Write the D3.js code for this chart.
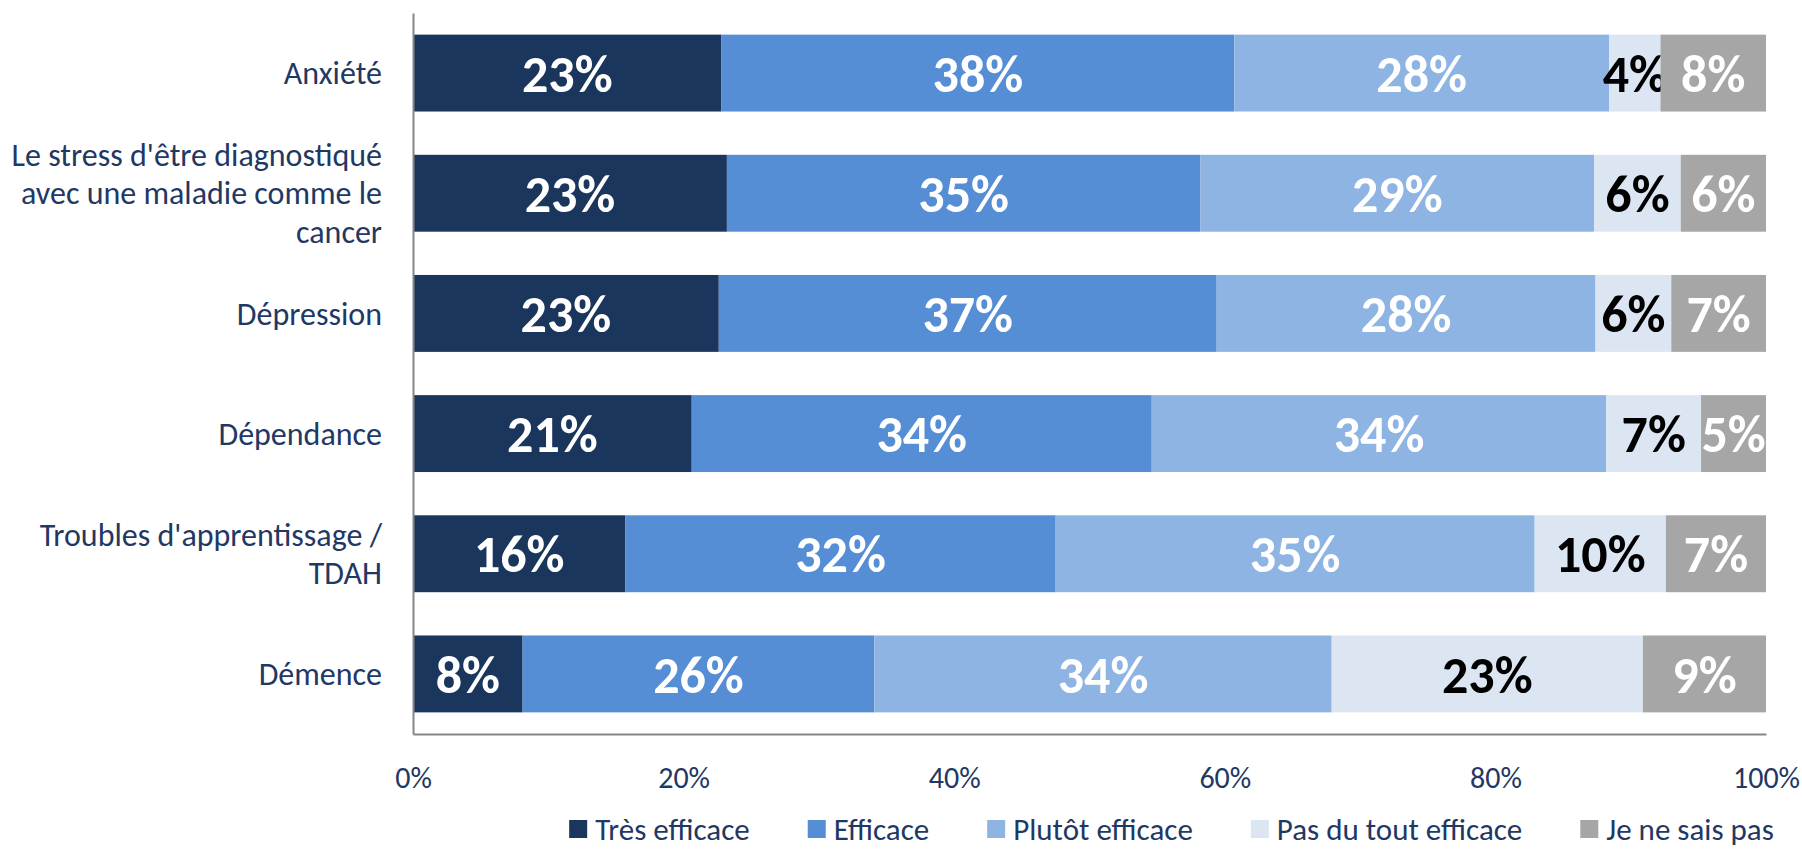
<!DOCTYPE html>
<html>
<head>
<meta charset="utf-8">
<script src="https://cdn.jsdelivr.net/npm/d3@7"></script>
<style>
  body { margin: 0; background: #fff; }
  text { font-family: Carlito, Calibri, Lato, sans-serif; }
</style>
</head>
<body>
<div id="chart"></div>
<script>
// loading data
var categories = ["Anxiété",
                  "Le stress d'être diagnostiqué avec une maladie comme le cancer",
                  "Dépression",
                  "Dépendance",
                  "Troubles d'apprentissage / TDAH",
                  "Démence"];
var series = ["Très efficace", "Efficace", "Plutôt efficace", "Pas du tout efficace", "Je ne sais pas"];

// shares per category, one array per series (in %)
var tresEfficace   = [22.8, 23.2, 22.6, 20.6, 15.7, 8.1];
var efficace       = [37.9, 35.0, 36.8, 34.0, 31.8, 26.0];
var plutotEfficace = [27.7, 29.1, 28.0, 33.6, 35.4, 33.8];
var pasDuTout      = [3.8, 6.4, 5.6, 7.0, 9.7, 23.0];
var nsp            = [7.8, 6.3, 7.0, 4.8, 7.4, 9.1];

// rounded labels shown on the bars
var labTres    = ["23%", "23%", "23%", "21%", "16%", "8%"];
var labEff     = ["38%", "35%", "37%", "34%", "32%", "26%"];
var labPlutot  = ["28%", "29%", "28%", "34%", "35%", "34%"];
var labPas     = ["4%", "6%", "6%", "7%", "10%", "23%"];
var labNsp     = ["8%", "6%", "7%", "5%", "7%", "9%"];

var tickValues = [0, 20, 40, 60, 80, 100];

var colors = ["#1B365D", "#558ED5", "#8EB4E3", "#DCE6F2", "#A6A6A6"];
var labelColors = ["#fff", "#fff", "#fff", "#000", "#fff"];
var navy = "#1F3864";

var values = [tresEfficace, efficace, plutotEfficace, pasDuTout, nsp];
var labels = [labTres, labEff, labPlutot, labPas, labNsp];

// table for the stack
var table = categories.map(function(c, i) {
	var row = { cat: c };
	series.forEach(function(s, k) { row[s] = values[k][i]; });
	return row;
});

// setting the dimensions and margins of the chart
var W = 1802, H = 850;
var margin = { top: 13, right: 36, bottom: 116, left: 413 };
var width = W - margin.left - margin.right,
    height = H - margin.top - margin.bottom;

var svg = d3.select("#chart")
	.append("svg")
	.attr("width", W)
	.attr("height", H)
	.append("g")
	.attr("transform", "translate(" + margin.left + "," + margin.top + ")");

var x = d3.scaleLinear().domain([0, 100]).range([0, width]);
var y = d3.scaleBand()
	.domain(categories)
	.range([0, height])
	.paddingInner(0.36)
	.paddingOuter(0.18);

var stack = d3.stack().keys(series)(table);

// bars
var layers = svg.selectAll(".layer")
	.data(stack)
	.enter()
	.append("g")
	.attr("class", "layer")
	.attr("fill", function(d, k) { return colors[k]; });

layers.selectAll("rect")
	.data(function(d) { return d; })
	.enter()
	.append("rect")
	.attr("x", function(d) { return x(d[0]); })
	.attr("width", function(d) { return x(d[1]) - x(d[0]); })
	.attr("y", function(d) { return y(d.data.cat); })
	.attr("height", y.bandwidth());

// value labels
layers.each(function(layer, k) {
	d3.select(this).selectAll("text")
		.data(layer)
		.enter()
		.append("text")
		.attr("x", function(d) { return (x(d[0]) + x(d[1])) / 2; })
		.attr("y", function(d) { return y(d.data.cat) + y.bandwidth() / 2; })
		.attr("dy", "0.36em")
		.attr("text-anchor", "middle")
		.attr("font-size", "52px")
		.attr("font-weight", "bold")
		.attr("fill", labelColors[k])
		.text(function(d, i) { return labels[k][i]; });
});

// x axis
var xAxis = svg.append("g")
	.attr("transform", "translate(0," + height + ")")
	.call(d3.axisBottom(x).tickValues(tickValues).tickSize(0)
		.tickFormat(function(d) { return d + "%"; }));
xAxis.select(".domain").attr("stroke", "#868686").attr("stroke-width", 2);
xAxis.selectAll("text")
	.attr("y", 43)
	.attr("dy", "0.35em")
	.attr("font-size", "30px")
	.attr("fill", navy)
	.style("font-family", "Carlito, Calibri, Lato, sans-serif");

// y axis
var yAxis = svg.append("g")
	.call(d3.axisLeft(y).tickSize(0).tickPadding(31));
yAxis.select(".domain").attr("stroke", "#868686").attr("stroke-width", 2);
yAxis.selectAll("text")
	.attr("font-size", "32px")
	.attr("fill", navy)
	.style("font-family", "Carlito, Calibri, Lato, sans-serif")
	.call(wrap, 385);

// wrapping long category names
function wrap(sel, maxW) {
	sel.each(function() {
		var t = d3.select(this);
		var words = t.text().split(" ");
		var xPos = t.attr("x");
		t.text(null);
		var lines = [], line = [];
		var probe = t.append("tspan");
		words.forEach(function(w) {
			line.push(w);
			probe.text(line.join(" "));
			if (probe.node().getComputedTextLength() > maxW && line.length > 1) {
				line.pop();
				lines.push(line.join(" "));
				line = [w];
			}
		});
		lines.push(line.join(" "));
		probe.remove();
		var lh = 38.3;
		var y0 = -(lines.length - 1) * lh / 2;
		t.attr("dy", null);
		lines.forEach(function(l, i) {
			t.append("tspan")
				.attr("x", xPos)
				.attr("y", y0 + i * lh)
				.attr("dy", "0.35em")
				.text(l);
		});
	});
}

// legend
var legend = svg.append("g");
var lx = 0;
series.forEach(function(s, k) {
	var g = legend.append("g").attr("transform", "translate(" + lx + ",0)");
	g.append("rect").attr("x", 0).attr("y", -9).attr("width", 18).attr("height", 18)
		.attr("fill", colors[k]);
	var t = g.append("text")
		.attr("x", 26)
		.attr("dy", "0.35em")
		.attr("font-size", "31px")
		.attr("fill", navy)
		.text(s);
	lx += 26 + t.node().getComputedTextLength() + 58;
});
var legW = lx - 58;
legend.attr("transform", "translate(" + ((560 + 1783) / 2 - margin.left - legW / 2) + "," + (829 - margin.top) + ")");
</script>
</body>
</html>
